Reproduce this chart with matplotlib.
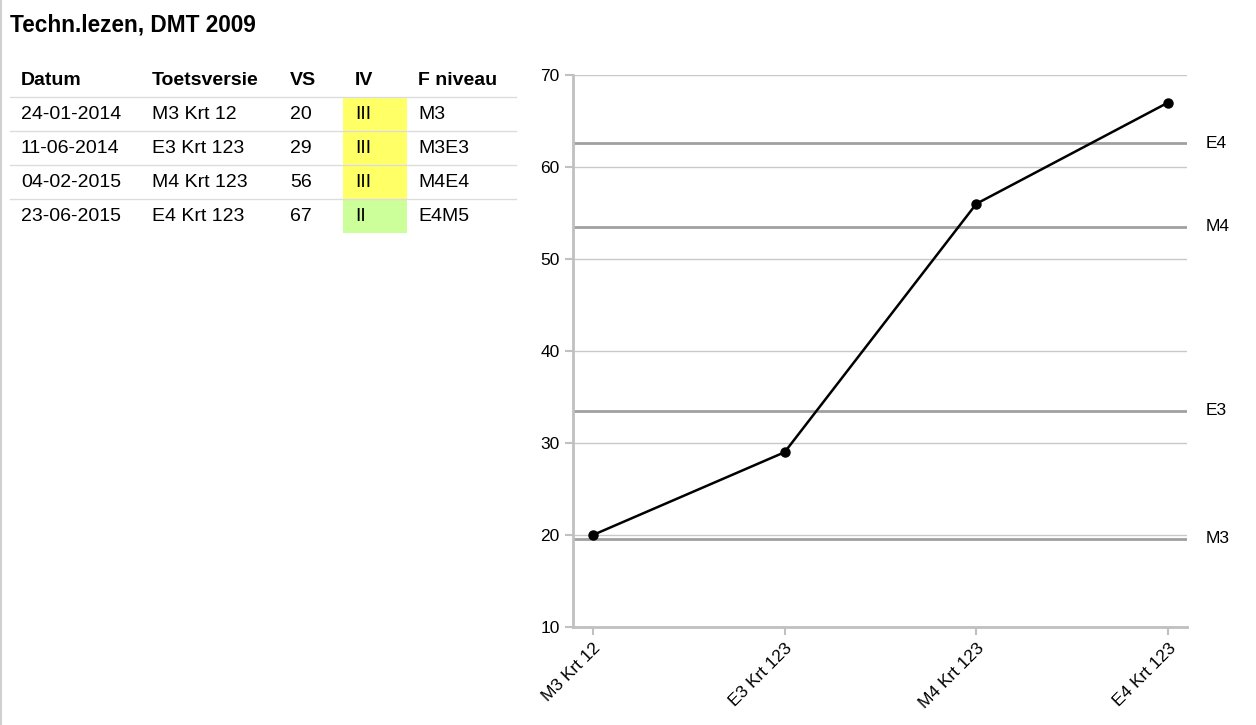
import matplotlib
matplotlib.use("Agg")
import matplotlib.pyplot as plt
from matplotlib.patches import Rectangle

# table data
title = "Techn.lezen, DMT 2009"
columns = ["Datum", "Toetsversie", "VS", "IV", "F niveau"]
dates = ["24-01-2014", "11-06-2014", "04-02-2015", "23-06-2015"]
versions = ["M3 Krt 12", "E3 Krt 123", "M4 Krt 123", "E4 Krt 123"]
scores = [20, 29, 56, 67]
iv = ["III", "III", "III", "II"]
iv_colors = ["#ffff66", "#ffff66", "#ffff66", "#ccff99"]
f_levels = ["M3", "M3E3", "M4E4", "E4M5"]

# reference levels in the chart
ref_names = ["E4", "M4", "E3", "M3"]
ref_values = [62.6, 53.5, 33.5, 19.6]

W, H = 1256, 725
fig = plt.figure(figsize=(W / 100, H / 100), dpi=100)

# background axes in pixel coordinates for the table
bg = fig.add_axes([0, 0, 1, 1])
bg.set_xlim(0, W)
bg.set_ylim(H, 0)
bg.axis("off")

bg.axvline(1, color="#d0d0d0", lw=1.5)
bg.text(10, 25, title, fontsize=16.3, fontweight="bold", family="Liberation Sans",
        va="center", ha="left")

col_x = [21, 152, 290, 355, 418]
head_y = 80
row_h = 34
for x, c in zip(col_x, columns):
    bg.text(x, head_y, c, fontsize=14, fontweight="bold", family="Liberation Sans",
            va="center", ha="left")

for i in range(len(dates)):
    y = head_y + row_h * (i + 1)
    top = y - 17
    bg.add_patch(Rectangle((343, top), 64, row_h, color=iv_colors[i], lw=0, zorder=0))
    bg.plot([10, 516], [top, top], color="#dcdcdc", lw=1)
    vals = [dates[i], versions[i], str(scores[i]), iv[i], f_levels[i]]
    for x, v in zip(col_x, vals):
        bg.text(x, y, v, fontsize=14, family="Liberation Sans", va="center", ha="left")

# chart
ax = fig.add_axes([573 / W, 1 - 627 / H, (1187 - 573) / W, (627 - 75) / H])
xs = list(range(len(versions)))

for name, v in zip(ref_names, ref_values):
    ax.axhline(v, color="#a0a0a0", lw=2, zorder=2)
    ax.text(1.03, v, name, transform=ax.get_yaxis_transform(), fontsize=12.5,
            family="Liberation Sans", va="center", ha="left")

ax.plot(xs, scores, color="black", lw=1.8, marker="o", markersize=6.5, zorder=3)

ax.set_xlim(-0.104, 3.099)
ax.set_ylim(10, 70)
ax.set_yticks(range(10, 71, 10))
ax.set_xticks(xs)
ax.set_xticklabels(versions, rotation=45, ha="right", va="top", rotation_mode="anchor",
                   family="Liberation Sans", fontsize=12.5)
for lab in ax.get_yticklabels():
    lab.set_family("Liberation Sans")
    lab.set_fontsize(12.5)

ax.grid(axis="y", color="#c8c8c8", lw=1, zorder=1)
ax.set_axisbelow(True)
for s in ["top", "right"]:
    ax.spines[s].set_visible(False)
for s in ["left", "bottom"]:
    ax.spines[s].set_color("#c0c0c0")
    ax.spines[s].set_linewidth(2)
ax.tick_params(colors="#c0c0c0", labelcolor="black", width=1.5, length=6)
ax.tick_params(axis="x", pad=4)
ax.patch.set_alpha(0)

fig.savefig("out.png", dpi=100)
